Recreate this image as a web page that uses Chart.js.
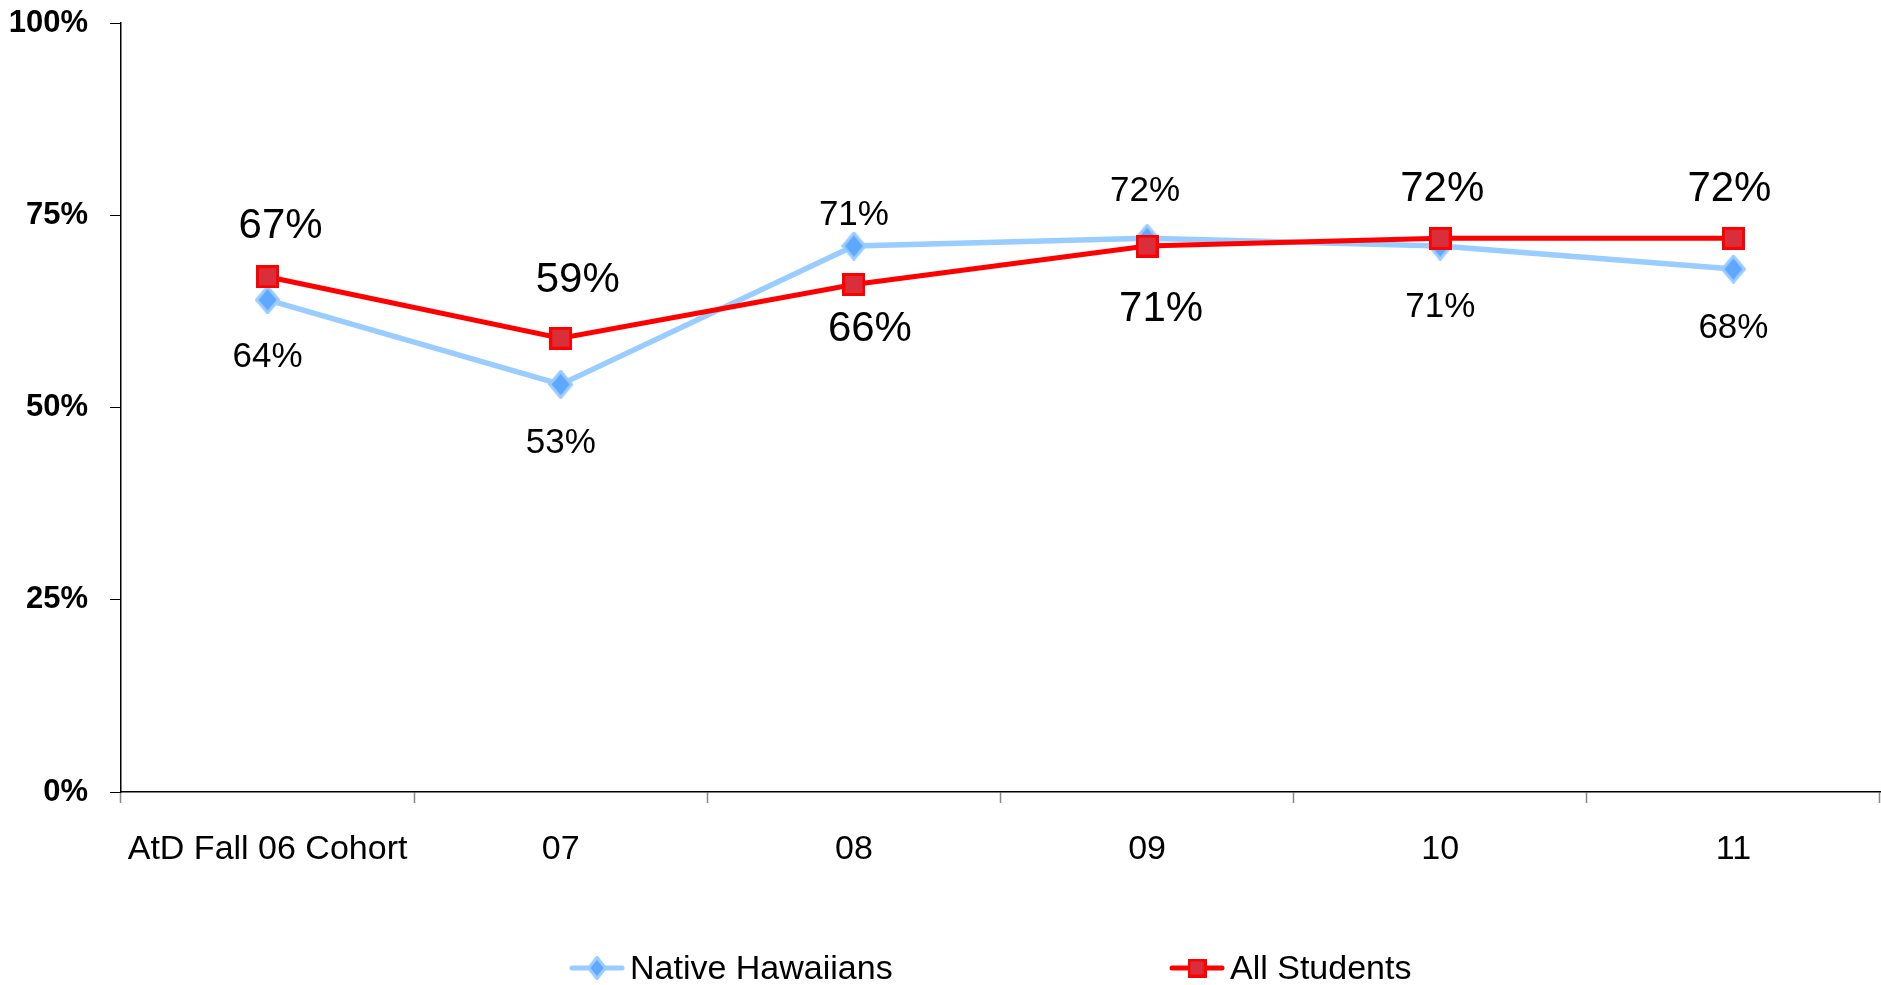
<!DOCTYPE html>
<html>
<head>
<meta charset="utf-8">
<script src="https://cdn.jsdelivr.net/npm/chart.js@4.4.1/dist/chart.umd.min.js"></script>
<style>
  html, body { margin: 0; padding: 0; background: #fff; overflow: hidden; }
  canvas { display: block; }
</style>
</head>
<body>
<canvas id="lineCanvas" width="1881" height="985"></canvas>
<script>
const cohorts = ['AtD Fall 06 Cohort', '07', '08', '09', '10', '11'];
const nativeHawaiians = [64, 53, 71, 72, 71, 68];
const allStudents = [67, 59, 66, 71, 72, 72];
const yTicks = [0, 25, 50, 75, 100];

const FONT = '"Liberation Sans", Arial, sans-serif';

// marker images (diamond / square) so the shapes match the original
function diamond(w, h, fill, stroke, lw) {
  const c = document.createElement('canvas');
  c.width = w; c.height = h;
  const g = c.getContext('2d');
  const i = lw / 2;
  g.beginPath();
  g.moveTo(w / 2, i); g.lineTo(w - i, h / 2); g.lineTo(w / 2, h - i); g.lineTo(i, h / 2);
  g.closePath();
  g.fillStyle = fill; g.fill();
  g.lineWidth = lw; g.strokeStyle = stroke; g.stroke();
  return c;
}
function square(s, fill, stroke, lw) {
  const c = document.createElement('canvas');
  c.width = s; c.height = s;
  const g = c.getContext('2d');
  g.fillStyle = fill; g.fillRect(0, 0, s, s);
  g.lineWidth = lw; g.strokeStyle = stroke; g.strokeRect(lw / 2, lw / 2, s - lw, s - lw);
  return c;
}

const nhMarker = diamond(25, 29, '#5FA8FF', '#99CCFF', 3);
const allMarker = square(23, '#DA2F3A', '#FF0000', 3);
const nhLegend = diamond(20, 24, '#5FA8FF', '#99CCFF', 3);
const allLegend = square(19, '#DA2F3A', '#FF0000', 3);

// where each value label sits relative to its point
const labelStyle = [
  { size: 35, dx: [0, 0, 0, -2, 0, 0], dy: [55, 56, -34, -50, 58, 56] },
  { size: 42, dx: [13, 17, 16, 14, 2, -4], dy: [-54, -61, 42, 60, -52, -52] }
];

const valueLabels = {
  id: 'valueLabels',
  afterDatasetsDraw(chart) {
    const ctx = chart.ctx;
    chart.data.datasets.forEach((ds, di) => {
      const st = labelStyle[di];
      const meta = chart.getDatasetMeta(di);
      ctx.save();
      ctx.font = st.size + 'px ' + FONT;
      ctx.fillStyle = '#000';
      ctx.textAlign = 'center';
      ctx.textBaseline = 'alphabetic';
      meta.data.forEach((pt, i) => {
        const cy = pt.y + st.dy[i];
        ctx.fillText(ds.data[i] + '%', pt.x + st.dx[i], cy + st.size * 0.358);
      });
      ctx.restore();
    });
  }
};

const legendItems = [
  { text: 'Native Hawaiians', x0: 570, color: '#99CCFF', marker: nhLegend },
  { text: 'All Students', x0: 1170, color: '#FF0000', marker: allLegend }
];

const bottomLegend = {
  id: 'bottomLegend',
  afterDraw(chart) {
    const ctx = chart.ctx;
    const y = 968;
    ctx.save();
    legendItems.forEach(it => {
      ctx.strokeStyle = it.color;
      ctx.lineWidth = 5;
      ctx.lineCap = 'round';
      ctx.beginPath();
      ctx.moveTo(it.x0 + 2, y);
      ctx.lineTo(it.x0 + 52, y);
      ctx.stroke();
      ctx.drawImage(it.marker, it.x0 + 27 - it.marker.width / 2, y - it.marker.height / 2);
      ctx.font = '34px ' + FONT;
      ctx.fillStyle = '#000';
      ctx.textAlign = 'left';
      ctx.textBaseline = 'alphabetic';
      ctx.fillText(it.text, it.x0 + 60, y - 1 + 34 * 0.358);
    });
    ctx.restore();
  }
};

new Chart(document.getElementById('lineCanvas'), {
  type: 'line',
  data: {
    labels: cohorts,
    datasets: [
      {
        label: 'Native Hawaiians',
        data: nativeHawaiians,
        borderColor: '#99CCFF',
        borderWidth: 5.5,
        pointStyle: nhMarker,
        pointRadius: 12,
        tension: 0,
        order: 2
      },
      {
        label: 'All Students',
        data: allStudents,
        borderColor: '#FF0000',
        borderWidth: 5,
        pointStyle: allMarker,
        pointRadius: 11,
        tension: 0,
        order: 1
      }
    ]
  },
  options: {
    responsive: false,
    animation: false,
    devicePixelRatio: 1,
    layout: { autoPadding: false, padding: { top: 23, right: 1, left: 0, bottom: 93 } },
    plugins: {
      legend: { display: false },
      tooltip: { enabled: false }
    },
    scales: {
      x: {
        offset: true,
        grid: {
          offset: true,
          drawOnChartArea: false,
          drawTicks: true,
          tickLength: 11,
          tickColor: '#888888',
          tickWidth: 1.5
        },
        border: { color: '#000', width: 1.5 },
        ticks: {
          color: '#000',
          padding: 26,
          maxRotation: 0,
          autoSkip: false,
          font: { family: FONT, size: 34 }
        },
        afterFit(s) { s.height = 100; s.paddingLeft = 0; s.paddingRight = 0; }
      },
      y: {
        min: 0,
        max: 100,
        afterBuildTicks(s) { s.ticks = yTicks.map(v => ({ value: v })); },
        grid: {
          drawOnChartArea: false,
          drawTicks: true,
          tickLength: 11,
          tickColor: '#000'
        },
        border: { color: '#000', width: 1.5 },
        ticks: {
          color: '#000',
          padding: 22,
          font: { family: FONT, size: 31, weight: 'bold' },
          callback: v => v + '%'
        },
        afterFit(s) { s.width = 121; s.paddingTop = 0; s.paddingBottom = 0; }
      }
    }
  },
  plugins: [valueLabels, bottomLegend]
});
</script>
</body>
</html>
